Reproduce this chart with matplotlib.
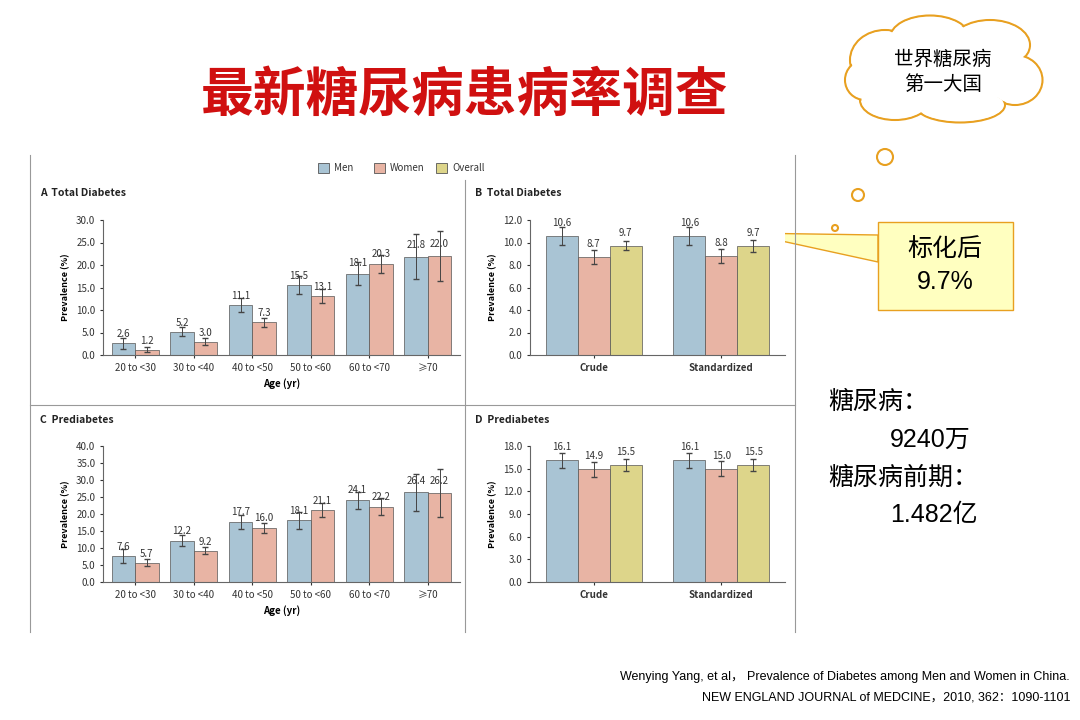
import matplotlib
matplotlib.use("Agg")
import matplotlib.pyplot as plt
import numpy as np
from matplotlib.patches import Ellipse, Circle, Polygon, Rectangle

plt.rcParams['font.family'] = ['Noto Sans CJK SC', 'DejaVu Sans']

ages = ["20 to <30", "30 to <40", "40 to <50", "50 to <60", "60 to <70", "≥70"]
a_men = [2.6, 5.2, 11.1, 15.5, 18.1, 21.8]
a_men_err = [1.2, 1.0, 1.5, 2.0, 2.5, 5.0]
a_women = [1.2, 3.0, 7.3, 13.1, 20.3, 22.0]
a_women_err = [0.5, 0.8, 1.0, 1.5, 2.0, 5.5]
c_men = [7.6, 12.2, 17.7, 18.1, 24.1, 26.4]
c_men_err = [2.0, 1.5, 2.0, 2.5, 2.5, 5.5]
c_women = [5.7, 9.2, 16.0, 21.1, 22.2, 26.2]
c_women_err = [1.0, 1.0, 1.5, 2.0, 2.5, 7.0]
groups = ["Crude", "Standardized"]
b_vals = [[10.6, 8.7, 9.7], [10.6, 8.8, 9.7]]
b_err = [[0.8, 0.6, 0.4], [0.8, 0.6, 0.5]]
d_vals = [[16.1, 14.9, 15.5], [16.1, 15.0, 15.5]]
d_err = [[1.0, 1.0, 0.8], [1.0, 1.0, 0.8]]
labels3 = ["Men", "Women", "Overall"]
colors = ["#a9c4d4", "#e8b4a4", "#ddd58a"]
EC = "#555555"

fig = plt.figure(figsize=(10.8, 7.2), dpi=100)
W, H = 1080, 720
def ax_px(x0, y0, x1, y1):
    return fig.add_axes([x0 / W, 1 - y1 / H, (x1 - x0) / W, (y1 - y0) / H])

ov = fig.add_axes([0, 0, 1, 1]); ov.set_xlim(0, W); ov.set_ylim(H, 0); ov.axis('off')
ov.text(465, 95, "最新糖尿病患病率调查", color="#d01010", fontsize=38, fontweight='bold', ha='center', va='center')
ov.plot([30, 30], [155, 632], color="#999", lw=0.8)
ov.plot([795, 795], [155, 632], color="#999", lw=0.8)
ov.plot([465, 465], [180, 632], color="#999", lw=0.8)
ov.plot([30, 795], [405, 405], color="#999", lw=0.8)
lx = 318
for lab, col in zip(labels3, colors):
    ov.add_patch(Rectangle((lx, 163), 11, 10, facecolor=col, edgecolor=EC, lw=0.6))
    ov.text(lx + 16, 168, lab, fontsize=7, va='center', color="#333")
    lx += 56 if lab != "Women" else 62
for x, y, t in [(40, 193, "A  Total Diabetes"), (475, 193, "B  Total Diabetes"),
                (40, 420, "C  Prediabetes"), (475, 420, "D  Prediabetes")]:
    ov.text(x, y, t, fontsize=7.5, fontweight='bold', va='center', color="#222")
cloud = [(885, 60, 70, 60), (930, 38, 80, 45), (990, 45, 80, 50), (1015, 80, 55, 50),
         (960, 105, 90, 35), (895, 100, 70, 40), (865, 80, 40, 40), (945, 70, 160, 75)]
for cx, cy, w, h in cloud:
    ov.add_patch(Ellipse((cx, cy), w, h, facecolor='white', edgecolor='#e8a020', lw=1.5, zorder=2))
for cx, cy, w, h in cloud:
    ov.add_patch(Ellipse((cx, cy), w - 3, h - 3, facecolor='white', edgecolor='none', zorder=3))
ov.text(943, 72, "世界糖尿病\n第一大国", fontsize=14, ha='center', va='center', zorder=4, linespacing=1.3)
for cx, cy, r in [(885, 157, 8), (858, 195, 6), (835, 228, 3)]:
    ov.add_patch(Circle((cx, cy), r, facecolor='white', edgecolor='#e8a020', lw=1.5))
ov.add_patch(Polygon([[745, 233], [878, 235], [878, 262]], closed=True, facecolor='#ffffc0', edgecolor='#e8a020', lw=1))
ov.add_patch(Rectangle((878, 222), 135, 88, facecolor='#ffffc0', edgecolor='#e8a020', lw=1))
ov.text(945, 266, "标化后\n9.7%", fontsize=18, ha='center', va='center', linespacing=1.4,
        family=['Liberation Sans', 'Noto Sans CJK SC'])
rf = ['Liberation Sans', 'Noto Sans CJK SC']
ov.text(828, 402, "糖尿病：", fontsize=18, va='center', family=rf)
ov.text(890, 440, "9240万", fontsize=18, va='center', family=rf)
ov.text(828, 478, "糖尿病前期：", fontsize=18, va='center', family=rf)
ov.text(890, 515, "1.482亿", fontsize=18, va='center', family=rf)
ov.text(1070, 677, "Wenying Yang, et al， Prevalence of Diabetes among Men and Women in China.", fontsize=9, ha='right', va='center', family=rf)
ov.text(1070, 698, "NEW ENGLAND JOURNAL of MEDCINE，2010, 362：1090-1101", fontsize=9, ha='right', va='center', family=rf)

def style(ax, ymax, step, xlabel=None):
    ax.set_ylim(0, ymax)
    ax.set_yticks(np.arange(0, ymax + 0.01, step))
    ax.set_yticklabels([f"{v:.1f}" for v in np.arange(0, ymax + 0.01, step)], fontsize=7)
    for s in ['top', 'right']:
        ax.spines[s].set_visible(False)
    ax.spines['left'].set_color('#666'); ax.spines['bottom'].set_color('#666')
    ax.tick_params(length=2, colors='#333')
    ax.set_ylabel("Prevalence (%)", fontsize=6.5, fontweight='bold')
    if xlabel:
        ax.set_xlabel(xlabel, fontsize=7, fontweight='bold')

def age_panel(ax, men, me, women, we, ymax, step):
    x = np.arange(len(ages)); w = 0.4
    for off, v, e, c in [(-w / 2, men, me, colors[0]), (w / 2, women, we, colors[1])]:
        ax.bar(x + off, v, w, yerr=e, color=c, edgecolor=EC, lw=0.5, capsize=2,
               error_kw=dict(elinewidth=0.7, ecolor='#444'))
        for xi, vi, ei in zip(x + off, v, e):
            ax.text(xi, vi + ei * 0.15 + ymax * 0.025, f"{vi:.1f}", fontsize=7, ha='center', va='bottom', color='#333')
    ax.set_xticks(x); ax.set_xticklabels(ages, fontsize=7)
    ax.set_xlim(-0.55, 5.55)
    style(ax, ymax, step, "Age (yr)")

def grp_panel(ax, vals, errs, ymax, step):
    w = 0.25
    for g in range(2):
        for k in range(3):
            xi = g + (k - 1) * w
            ax.bar(xi, vals[g][k], w, yerr=errs[g][k], color=colors[k], edgecolor=EC, lw=0.5, capsize=2,
                   error_kw=dict(elinewidth=0.7, ecolor='#444'))
            ax.text(xi, vals[g][k] + ymax * 0.06, f"{vals[g][k]:.1f}", fontsize=7, ha='center', va='bottom', color='#333')
    ax.set_xticks([0, 1]); ax.set_xticklabels(groups, fontsize=7, fontweight='bold')
    ax.set_xlim(-0.5, 1.5)
    style(ax, ymax, step)

age_panel(ax_px(103, 220, 460, 355), a_men, a_men_err, a_women, a_women_err, 30, 5)
age_panel(ax_px(103, 446, 460, 582), c_men, c_men_err, c_women, c_women_err, 40, 5)
grp_panel(ax_px(530, 220, 785, 355), b_vals, b_err, 12, 2)
grp_panel(ax_px(530, 446, 785, 582), d_vals, d_err, 18, 3)

fig.savefig("out.png", dpi=100)
